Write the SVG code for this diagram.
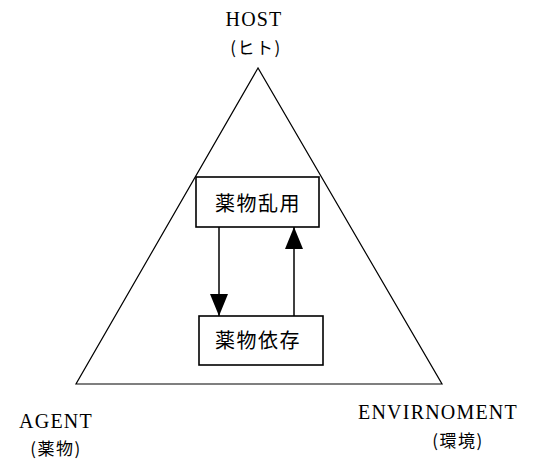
<svg xmlns="http://www.w3.org/2000/svg" width="536" height="461" viewBox="0 0 536 461">
<style>
.lat{font-family:"Liberation Serif","DejaVu Serif",serif;font-size:20px;fill:#000;letter-spacing:1.2px}
.jp{font-family:"Noto Sans CJK JP","Noto Sans CJK SC",sans-serif;font-size:17px;fill:#000;letter-spacing:1.5px}
.box{fill:#fff;stroke:#000;stroke-width:1.6}
.bl{font-family:"Noto Sans CJK JP","Noto Sans CJK SC",sans-serif;font-size:20px;fill:#000;letter-spacing:1.5px}
.ln{stroke:#000;stroke-width:1.5;fill:none}
</style>
<defs>
<marker id="ah" markerUnits="userSpaceOnUse" markerWidth="22" markerHeight="18" refX="22" refY="9" orient="auto">
<path d="M0,0 L22,9 L0,18 Z" fill="#000"/>
</marker>
</defs>
<rect width="536" height="461" fill="#fff"/>
<g id="triangle">
<polygon points="258,68 76,384 442,384" fill="none" stroke="#000" stroke-width="1.2"/>
</g>
<g id="host">
<text class="lat" x="254" y="26" text-anchor="middle">HOST</text>
<text class="jp" x="256" y="54" text-anchor="middle">(ヒト)</text>
</g>
<g id="agent">
<text class="lat" x="56" y="428" text-anchor="middle">AGENT</text>
<text class="jp" x="56" y="455" text-anchor="middle">(薬物)</text>
</g>
<g id="environment">
<text class="lat" x="438" y="419" text-anchor="middle">ENVIRNOMENT</text>
<text class="jp" x="458" y="447" text-anchor="middle">(環境)</text>
</g>
<g id="connectors">
<line class="ln" x1="219" y1="227" x2="219" y2="316" marker-end="url(#ah)"/>
<line class="ln" x1="294" y1="316" x2="294" y2="227" marker-end="url(#ah)"/>
</g>
<g id="abuse">
<rect class="box" x="196" y="177" width="123" height="50"/>
<text class="bl" x="258" y="211" text-anchor="middle">薬物乱用</text>
</g>
<g id="dependence">
<rect class="box" x="199" y="316" width="124" height="49"/>
<text class="bl" x="258" y="348" text-anchor="middle">薬物依存</text>
</g>
</svg>
